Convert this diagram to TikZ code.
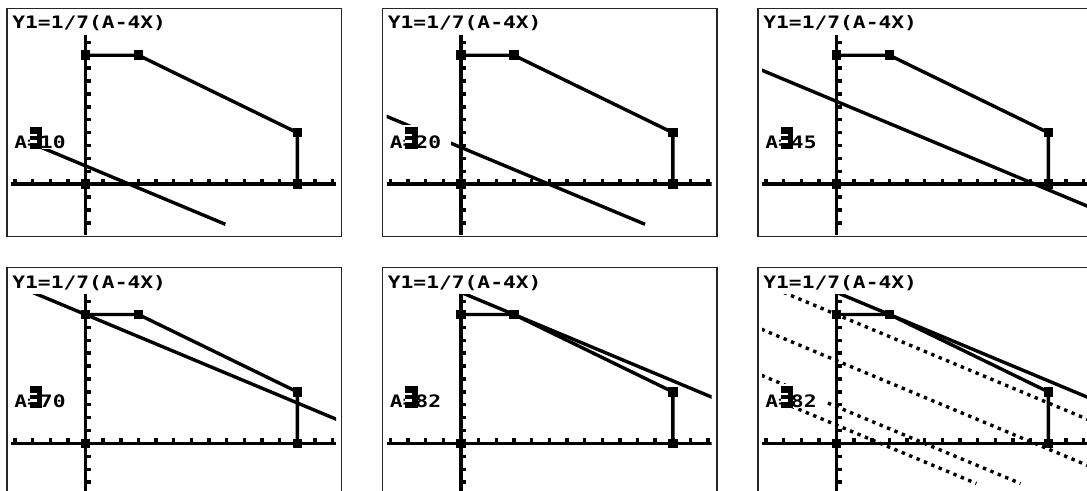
\documentclass[tikz,border=0pt]{standalone}
\usepackage{fontspec}
\newfontfamily\tifont{DejaVu Sans Mono Bold}[FakeStretch=1.24]
\tikzset{
  scrborder/.style={draw=black!85, line width=0.6pt},
  axisline/.style={line width=1.9pt},
  edgeline/.style={line width=1.7pt},
  lvline/.style={line width=1.7pt},
  dotline/.style={line width=1.7pt, dash pattern=on 1.7pt off 2.3pt},
  titext/.style={font=\tifont\fontsize{8.57pt}{9pt}\selectfont, inner sep=0pt, text=black},
  mathunits/.style={x=8.825pt, y=6.45pt}
}
% level line 4x+7y=A, from the left edge of the screen down to y=-3.1
\newcommand\lvl[2][lvline]{\draw[#1] (-4.25,{(#2+17)/7}) -- ({(#2+21.7)/4},-3.1);}
% one calculator screen: #1,#2 origin of the axes (pixels), #3 value of A, #4 lines, #5 name
\newcommand\tipanel[5]{%
\begin{scope}[shift={(#1,#2)}]
  \draw[scrborder] (-78.5,-176) rectangle (256,52);
  \begin{scope}
    \clip (-74.5,-172) rectangle (250.5,51);
    % axes
    \draw[axisline] (-74.5,0) -- (250.5,0);
    \draw[axisline] (0,-172) -- (0,51);
    \foreach \i in {-4,-3,-2,-1,1,2,3,4,5,6,7,8,9,10,11,12,13,14}
      \fill ({\i*17.65-1.7},-1.8) rectangle ({\i*17.65+1.7},-5.4);
    \foreach \j in {-3,-2,-1,1,2,3,4,5,6,7,8,9,10,11}
      \fill (1.8,{-\j*12.9-1.7}) rectangle (5.4,{-\j*12.9+1.7});
    \begin{scope}[mathunits]
      % feasible region edges
      \draw[edgeline] (0,10) -- (3,10) -- (12,4) -- (12,0);
      \foreach \px/\py in {0/0,0/10,3/10,12/4,12/0}
        \fill ([shift={(-2.4pt,-2.4pt)}]\px,\py) rectangle ([shift={(2.4pt,2.4pt)}]\px,\py);
      #4
    \end{scope}
    % text areas erase the graph
    \fill[white] (-75,-173) rectangle (82,-149.5);
    \fill[white] (-75,-59) rectangle (-10,-35.5);
  \end{scope}
  \node[titext, anchor=base west] (title#5) at (-73.5,-155.3) {Y1=1/7(A-4X)};
  \node[titext, anchor=base west] (label#5) at (-71.5,-36) {A=#3};
  \fill (-56,-57) rectangle (-43.5,-35);
  \fill[white] (-56,-50.5) rectangle (-49,-48);
  \fill[white] (-56,-44) rectangle (-49,-41.5);
\end{scope}}

\begin{document}
\begin{tikzpicture}[x=0.5pt,y=-0.5pt]
  \useasboundingbox (0,0) rectangle (1087,491);
  \clip (0,0) rectangle (1087,491);
  \fill[white] (0,0) rectangle (1087,491);
  \tipanel{85.5}{184.3}{10}{\lvl{10}}{a}
  \tipanel{461}{184.3}{20}{\lvl{20}}{b}
  \tipanel{836.5}{184.3}{45}{\lvl{45}}{c}
  \tipanel{85.5}{443.5}{70}{\lvl{70}}{d}
  \tipanel{461}{443.5}{82}{\lvl{82}}{e}
  \tipanel{836.5}{443.5}{82}{\lvl[dotline]{10}\lvl[dotline]{20}\lvl[dotline]{45}\lvl[dotline]{70}\lvl{82}}{f}
\end{tikzpicture}
\end{document}
